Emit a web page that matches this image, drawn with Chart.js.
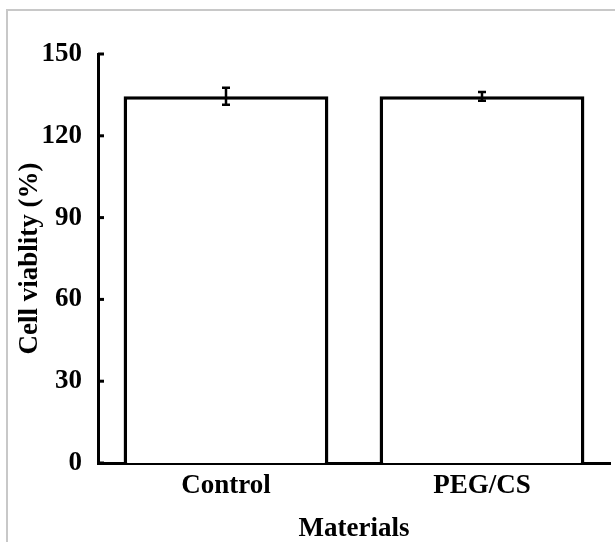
<!DOCTYPE html>
<html>
<head>
<meta charset="utf-8">
<script src="https://cdn.jsdelivr.net/npm/chart.js@4.4.0/dist/chart.umd.min.js"></script>
<style>
    body { margin: 0; background: #fff; overflow: hidden; }
    #frame { position: absolute; left: 6px; top: 9px; width: 640px; height: 560px; border-top: 2px solid #c8c8c8; border-left: 2px solid #c8c8c8; }
    #chart { position: absolute; left: 0; top: 0; }
</style>
</head>
<body>
<div id="frame"></div>
<canvas id="chart" width="615" height="542"></canvas>
<script>
const categories = ['Control', 'PEG/CS'];
const viability = [134.5, 134.5];
const viabilityError = [3.1, 1.6];
const yTicks = [0, 30, 60, 90, 120, 150];

const serif = 'Liberation Serif, Times New Roman, serif';

// error bars drawn on top of each bar
const errorBars = {
    id: 'errorBars',
    afterDatasetsDraw(chart) {
        const ctx = chart.ctx;
        const y = chart.scales.y;
        chart.getDatasetMeta(0).data.forEach((bar, i) => {
            const top = y.getPixelForValue(viability[i] + viabilityError[i]);
            const bottom = y.getPixelForValue(viability[i] - viabilityError[i]);
            ctx.save();
            ctx.strokeStyle = '#000';
            ctx.lineWidth = 2.5;
            ctx.beginPath();
            ctx.moveTo(bar.x, top);
            ctx.lineTo(bar.x, bottom);
            ctx.moveTo(bar.x - 4, top);
            ctx.lineTo(bar.x + 4, top);
            ctx.moveTo(bar.x - 4, bottom);
            ctx.lineTo(bar.x + 4, bottom);
            ctx.stroke();
            ctx.restore();
        });
    }
};

// tick marks pointing into the plot
const innerTicks = {
    id: 'innerTicks',
    afterDraw(chart) {
        const ctx = chart.ctx;
        const y = chart.scales.y;
        const x0 = chart.chartArea.left;
        ctx.save();
        ctx.strokeStyle = '#000';
        ctx.lineWidth = 3;
        yTicks.forEach(v => {
            const py = y.getPixelForValue(v);
            ctx.beginPath();
            ctx.moveTo(x0, py);
            ctx.lineTo(x0 + 6, py);
            ctx.stroke();
        });
        ctx.restore();
    }
};

new Chart(document.getElementById('chart'), {
    type: 'bar',
    data: {
        labels: categories,
        datasets: [{
            data: viability,
            backgroundColor: '#fff',
            borderColor: '#000',
            borderWidth: 3.5,
            barPercentage: 0.8,
            categoryPercentage: 1
        }]
    },
    options: {
        responsive: false,
        animation: false,
        layout: { padding: { top: 54, right: 5, bottom: 0, left: 0 } },
        plugins: { legend: { display: false }, tooltip: { enabled: false } },
        scales: {
            x: {
                grid: { display: false, drawTicks: false },
                border: { display: true, color: '#000', width: 3 },
                ticks: { color: '#000', padding: 7, font: { family: serif, size: 27, weight: 'bold' } },
                title: { display: true, text: 'Materials', color: '#000', padding: { top: 0, bottom: -3 }, font: { family: serif, size: 27, weight: 'bold' } },
                afterFit: scale => { scale.height = 79; }
            },
            y: {
                min: 0,
                max: 150,
                afterBuildTicks: scale => { scale.ticks = yTicks.map(v => ({ value: v })); },
                grid: { display: false, drawTicks: false },
                border: { display: true, color: '#000', width: 3 },
                ticks: { color: '#000', padding: 16, font: { family: serif, size: 27, weight: 'bold' } },
                title: { display: true, text: 'Cell viablity (%)', color: '#000', padding: { top: 14, bottom: 0 }, font: { family: serif, size: 27, weight: 'bold' } },
                afterFit: scale => { scale.width = 98; }
            }
        }
    },
    plugins: [errorBars, innerTicks]
});
</script>
</body>
</html>
